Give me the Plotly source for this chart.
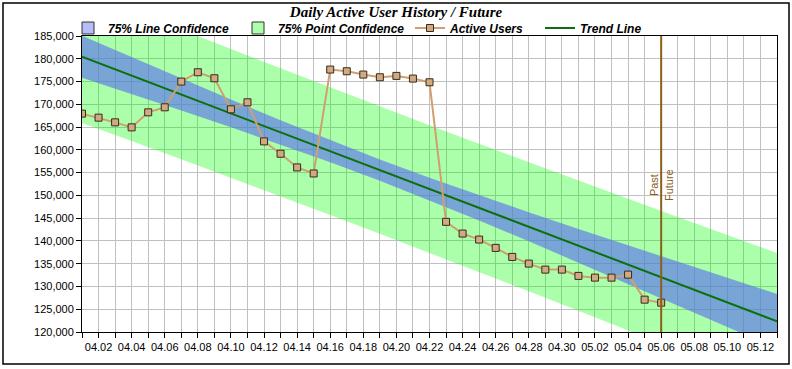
import plotly.graph_objects as go

# ---------------- data ----------------
user_dates = [
    "2023-04-01", "2023-04-02", "2023-04-03", "2023-04-04", "2023-04-05", "2023-04-06",
    "2023-04-07", "2023-04-08", "2023-04-09", "2023-04-10", "2023-04-11", "2023-04-12",
    "2023-04-13", "2023-04-14", "2023-04-15", "2023-04-16", "2023-04-17", "2023-04-18",
    "2023-04-19", "2023-04-20", "2023-04-21", "2023-04-22", "2023-04-23", "2023-04-24",
    "2023-04-25", "2023-04-26", "2023-04-27", "2023-04-28", "2023-04-29", "2023-04-30",
    "2023-05-01", "2023-05-02", "2023-05-03", "2023-05-04", "2023-05-05", "2023-05-06",
]
active_users = [
    167950, 167070, 166040, 164940, 168240, 169340,
    174990, 177040, 175720, 168900, 170440, 161860,
    159150, 156140, 154820, 177630, 177260, 176530,
    175940, 176240, 175650, 174840, 144190, 141620,
    140300, 138470, 136490, 135020, 133700, 133700,
    132320, 131940, 131940, 132600, 127100, 126440,
]

trend_dates = ["2023-04-01", "2023-05-13"]
trend_values = [180450, 122350]

band_dates = [
    "2023-04-01", "2023-04-04", "2023-04-07", "2023-04-10", "2023-04-13",
    "2023-04-16", "2023-04-19", "2023-04-22", "2023-04-25", "2023-04-28",
    "2023-05-01", "2023-05-04", "2023-05-07", "2023-05-10", "2023-05-13",
]
line_conf_upper = [185050, 180340, 175660, 171040, 166510, 162120, 157900, 153880,
                   150020, 146280, 142630, 139020, 135450, 131900, 128370]
line_conf_lower = [175850, 172270, 168640, 164960, 161190, 157280, 153200, 148920,
                   144480, 139920, 135270, 130580, 125850, 121100, 116330]
point_conf_upper = [194980, 190660, 186380, 182130, 177900, 173710, 169550, 165420,
                    161320, 157260, 153220, 149220, 145240, 141290, 137370]
point_conf_lower = [165920, 161940, 157920, 153870, 149800, 145690, 141550, 137380,
                    133180, 128940, 124680, 120380, 116060, 111710, 107330]

divider_date = "2023-05-06"
divider_label_value = 152300

# ---------------- styling ----------------
GREEN_BAND = "rgba(0,255,0,0.33)"
BLUE_BAND = "rgba(90,110,240,0.62)"
TREND = "#0b700b"
USERS_LINE = "#cf9f6f"
USERS_MARK = "#d0aa82"
BROWN = "#8b5e1a"
GRID = "#c0c0c0"
SANS = "Liberation Sans, Arial, sans-serif"
SERIF = "Liberation Serif, Times New Roman, serif"

fig = go.Figure()

# point confidence band
fig.add_trace(go.Scatter(
    x=band_dates + band_dates[::-1],
    y=point_conf_upper + point_conf_lower[::-1],
    fill="toself", fillcolor=GREEN_BAND, mode="lines", line=dict(width=0),
    showlegend=False, hoverinfo="skip",
))
# line confidence band
fig.add_trace(go.Scatter(
    x=band_dates + band_dates[::-1],
    y=line_conf_upper + line_conf_lower[::-1],
    fill="toself", fillcolor=BLUE_BAND, mode="lines", line=dict(width=0),
    showlegend=False, hoverinfo="skip",
))
# trend line
fig.add_trace(go.Scatter(
    x=trend_dates, y=trend_values, mode="lines",
    line=dict(color=TREND, width=2), showlegend=False,
))
# active users
fig.add_trace(go.Scatter(
    x=user_dates, y=active_users, mode="lines+markers",
    line=dict(color=USERS_LINE, width=2),
    marker=dict(symbol="square", size=7, color=USERS_MARK,
                line=dict(color="#3a2a1a", width=1)),
    showlegend=False,
))

# legend entries (one legend per item to mimic spacing)
leg_font = dict(family=SANS, size=12, color="#000", weight="bold", style="italic")
fig.add_trace(go.Scatter(
    x=[None], y=[None], mode="markers", name="75% Line Confidence",
    marker=dict(symbol="square", size=12, color="rgba(90,110,240,0.45)",
                line=dict(color="#333", width=1)),
    legend="legend",
))
fig.add_trace(go.Scatter(
    x=[None], y=[None], mode="markers", name="75% Point Confidence",
    marker=dict(symbol="square", size=12, color=GREEN_BAND, line=dict(color="#333", width=1)),
    legend="legend2",
))
fig.add_trace(go.Scatter(
    x=[None], y=[None], mode="lines+markers", name="Active Users",
    line=dict(color=USERS_LINE, width=2),
    marker=dict(symbol="square", size=7, color=USERS_MARK, line=dict(color="#3a2a1a", width=1)),
    legend="legend3",
))
fig.add_trace(go.Scatter(
    x=[None], y=[None], mode="lines", name="Trend Line",
    line=dict(color=TREND, width=2),
    legend="legend4",
))

L, R, T, B = 82, 15, 36, 37
W, H = 792, 369
pw, ph = W - L - R, H - T - B

def px_x(p):
    return (p - L) / pw

def px_y(p):
    return (H - B - p) / ph

legend_common = dict(orientation="h", font=leg_font, bgcolor="rgba(0,0,0,0)",
                     xanchor="left", yanchor="middle", y=px_y(28), itemwidth=30,
                     borderwidth=0)

fig.update_layout(
    width=W, height=H,
    margin=dict(l=L, r=R, t=T, b=B, autoexpand=False),
    paper_bgcolor="white", plot_bgcolor="white",
    title=dict(text="Daily Active User History / Future", x=0.5, xanchor="center",
               y=1 - 12 / H, yanchor="middle",
               font=dict(family=SERIF, size=15, color="#000", weight="bold", style="italic")),
    legend=dict(x=px_x(68), **legend_common),
    legend2=dict(x=px_x(238), **legend_common),
    legend3=dict(x=px_x(410), **legend_common),
    legend4=dict(x=px_x(540), **legend_common),
    xaxis=dict(
        type="date", range=["2023-04-01", "2023-05-13"],
        tick0="2023-04-02", dtick=2 * 86400000, tickformat="%m.%d", tickangle=0,
        ticks="outside", ticklen=5, tickcolor="#000",
        showgrid=True, gridcolor=GRID, gridwidth=1,
        minor=dict(tick0="2023-04-01", dtick=86400000, showgrid=True, gridcolor=GRID,
                   ticks="outside", ticklen=5, tickcolor="#000"),
        showline=True, linecolor="#000", linewidth=1, mirror=True,
        tickfont=dict(family=SANS, size=11, color="#000"), zeroline=False,
    ),
    yaxis=dict(
        range=[120000, 185000], dtick=5000, tick0=120000, tickformat=",",
        ticks="outside", ticklen=5, tickcolor="#000",
        showgrid=True, gridcolor=GRID, gridwidth=1,
        showline=True, linecolor="#000", linewidth=1, mirror=True,
        tickfont=dict(family=SANS, size=11, color="#000"), zeroline=False,
    ),
    showlegend=True,
)

# past / future divider
fig.add_shape(type="line", xref="x", yref="paper", x0=divider_date, x1=divider_date,
              y0=0, y1=1, line=dict(color=BROWN, width=2))
fig.add_annotation(x=divider_date, y=divider_label_value, xref="x", yref="y",
                   text="Past", textangle=-90, showarrow=False, xshift=-7,
                   font=dict(family=SANS, size=11, color=BROWN))
fig.add_annotation(x=divider_date, y=divider_label_value, xref="x", yref="y",
                   text="Future", textangle=-90, showarrow=False, xshift=8,
                   font=dict(family=SANS, size=11, color=BROWN))

# outer frame
fig.add_shape(type="rect", xref="paper", yref="paper",
              x0=px_x(3), x1=px_x(789), y0=px_y(364), y1=px_y(3),
              line=dict(color="#000", width=1.5), fillcolor="rgba(0,0,0,0)", layer="below")

fig.write_html(
    "out.html",
    config={"displayModeBar": False},
    post_script="document.body.style.margin='0';document.body.style.overflow='hidden';",
)
